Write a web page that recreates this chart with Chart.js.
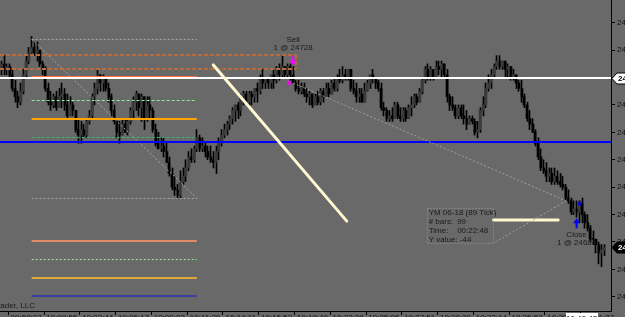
<!DOCTYPE html>
<html><head><meta charset="utf-8">
<script src="https://cdn.jsdelivr.net/npm/chart.js@4/dist/chart.umd.min.js"></script>
<style>html,body{margin:0;padding:0;overflow:hidden;background:#696969;width:625px;height:317px}canvas{display:block}</style>
</head><body><canvas id="c" width="660" height="340"></canvas>
<script>
// ---- data (YM 06-18, 89 tick bars) ----
const barOpen=[24733,24735,24733,24734,24731,24726,24723,24721,24725,24731,
24736,24739,24741,24739,24740,24735,24733,24726,24721,24720,
24723,24719,24723,24724,24720,24716,24720,24718,24711,24709,
24711,24709,24714,24716,24723,24726,24731,24728,24730,24726,
24723,24718,24714,24710,24709,24713,24710,24714,24718,24721,
24724,24719,24723,24715,24720,24718,24711,24706,24704,24705,
24703,24699,24695,24690,24689,24687,24692,24694,24697,24701,
24700,24704,24708,24704,24705,24703,24701,24700,24699,24703,
24706,24709,24711,24713,24715,24718,24720,24718,24723,24724,
24721,24724,24723,24726,24725,24730,24728,24730,24728,24731,
24729,24733,24731,24734,24731,24734,24731,24728,24726,24725,
24726,24724,24723,24724,24720,24723,24721,24725,24723,24726,
24724,24728,24726,24730,24729,24731,24730,24733,24726,24725,
24723,24724,24721,24725,24728,24731,24730,24728,24726,24719,
24718,24715,24716,24715,24720,24716,24715,24718,24715,24719,
24720,24723,24721,24725,24729,24733,24730,24733,24730,24734,
24733,24735,24731,24723,24720,24719,24716,24719,24716,24715,
24713,24715,24714,24710,24711,24718,24720,24726,24728,24731,
24734,24736,24734,24736,24733,24734,24730,24731,24728,24726,
24723,24720,24715,24713,24710,24706,24701,24697,24696,24694,
24695,24692,24694,24692,24691,24690,24686,24685,24681,24682,
24681,24684,24680,24677,24675,24671,24671,24669,24666,24667];
const barHigh=[24736,24738,24735,24735,24733,24729,24725,24728,24733,24738,
24741,24745,24743,24743,24740,24736,24734,24728,24725,24724,
24725,24726,24728,24726,24724,24723,24721,24718,24715,24714,
24713,24715,24718,24724,24728,24733,24731,24731,24730,24728,
24724,24720,24715,24714,24715,24715,24715,24719,24723,24725,
24724,24724,24723,24723,24723,24719,24713,24710,24708,24708,
24706,24701,24697,24694,24691,24696,24697,24700,24703,24704,
24705,24711,24709,24708,24706,24705,24705,24703,24705,24708,
24711,24713,24714,24716,24719,24720,24721,24724,24725,24725,
24725,24725,24726,24728,24731,24733,24730,24730,24731,24733,
24734,24735,24738,24734,24735,24735,24734,24729,24729,24728,
24728,24726,24725,24724,24724,24725,24726,24726,24728,24728,
24729,24730,24731,24733,24734,24733,24733,24733,24729,24728,
24726,24726,24728,24729,24731,24733,24730,24729,24728,24721,
24719,24718,24719,24721,24721,24719,24719,24719,24720,24723,
24724,24724,24726,24730,24734,24735,24734,24733,24736,24736,
24736,24735,24733,24724,24723,24720,24720,24720,24720,24718,
24716,24716,24715,24714,24719,24723,24728,24731,24733,24735,
24738,24738,24736,24736,24735,24734,24733,24731,24729,24729,
24724,24721,24718,24715,24711,24708,24704,24700,24699,24697,
24697,24697,24696,24695,24694,24691,24689,24686,24685,24685,
24685,24686,24681,24680,24676,24674,24671,24670,24669,24669];
const barLow=[24731,24731,24731,24730,24725,24721,24719,24720,24724,24730,
24735,24738,24738,24736,24734,24731,24725,24720,24718,24719,
24718,24719,24719,24718,24715,24716,24716,24710,24706,24706,
24708,24708,24713,24715,24720,24724,24725,24725,24725,24721,
24716,24713,24708,24706,24709,24710,24709,24713,24715,24718,
24716,24714,24711,24714,24715,24710,24705,24704,24703,24701,
24699,24694,24689,24687,24686,24686,24691,24692,24696,24699,
24699,24703,24703,24703,24701,24700,24699,24697,24695,24700,
24705,24708,24709,24711,24713,24714,24715,24716,24720,24720,
24720,24720,24721,24721,24724,24726,24726,24726,24726,24726,
24728,24729,24730,24730,24730,24729,24728,24725,24724,24724,
24723,24721,24720,24719,24720,24720,24720,24721,24723,24723,
24724,24725,24725,24728,24728,24729,24729,24725,24724,24721,
24721,24721,24721,24725,24726,24728,24726,24725,24718,24716,
24714,24714,24714,24715,24715,24714,24714,24714,24715,24716,
24719,24720,24721,24724,24728,24729,24729,24729,24730,24731,
24730,24730,24721,24718,24718,24715,24715,24715,24713,24711,
24713,24713,24709,24708,24710,24716,24719,24725,24726,24730,
24733,24733,24733,24730,24730,24729,24729,24726,24725,24721,
24719,24714,24711,24710,24705,24700,24696,24695,24692,24692,
24691,24691,24691,24690,24689,24685,24684,24680,24680,24679,
24677,24677,24675,24674,24670,24669,24666,24662,24661,24665];
const barClose=[24735,24733,24734,24731,24726,24723,24721,24725,24731,24736,
24739,24741,24739,24740,24735,24733,24726,24721,24720,24723,
24719,24723,24724,24720,24716,24720,24718,24711,24709,24711,
24709,24714,24716,24723,24726,24731,24728,24730,24726,24723,
24718,24714,24710,24709,24713,24710,24714,24718,24721,24724,
24719,24723,24715,24720,24718,24711,24706,24704,24705,24703,
24699,24695,24690,24689,24687,24692,24694,24697,24701,24700,
24704,24708,24704,24705,24703,24701,24700,24699,24703,24706,
24709,24711,24713,24715,24718,24720,24718,24723,24724,24721,
24724,24723,24726,24725,24730,24728,24730,24728,24731,24729,
24733,24731,24734,24731,24734,24731,24728,24726,24725,24726,
24724,24723,24724,24720,24723,24721,24725,24723,24726,24724,
24728,24726,24730,24729,24731,24730,24733,24726,24725,24723,
24724,24721,24725,24728,24731,24730,24728,24726,24719,24718,
24715,24716,24715,24720,24716,24715,24718,24715,24719,24720,
24723,24721,24725,24729,24733,24730,24733,24730,24734,24733,
24735,24731,24723,24720,24719,24716,24719,24716,24715,24713,
24715,24714,24710,24711,24718,24720,24726,24728,24731,24734,
24736,24734,24736,24733,24734,24730,24731,24728,24726,24723,
24720,24715,24713,24710,24706,24701,24697,24696,24694,24695,
24692,24694,24692,24691,24690,24686,24685,24681,24682,24681,
24684,24680,24677,24675,24671,24671,24669,24666,24667,24668];
const priceTicks=[24650,24660,24670,24680,24690,24700,24710,24720,24730,24740,24750];
const tickBars=[9,22,35,48,61,74,87,100,113,126,139,152,165,178,191,204,217];
const timeTicks=["09:58:07","10:00:55","10:03:44","10:06:17","10:09:02","10:11:30","10:14:11","10:16:53","10:19:40","10:22:28","10:25:06","10:27:51","10:30:39","10:33:14","10:35:58","10:38:42","10:41:27"];
// drawing objects (bar index, price)
const fibAnchors={startBar:11,endBar:71,high:24744,low:24686};
const fibLevels=[0,0.236,0.382,0.5,0.618,1,1.272,1.382,1.5,1.618];
const whiteLinePrice=24729.7, blueLinePrice=24706.5;
const rectZone={fromBar:-5,toBar:107.06,top:24738.2,bottom:24733.1};
const creamTrend={b1:77,p1:24734.6,b2:125.5,p2:24677.6};
const creamFlat={b1:178.8,b2:202.3,p:24678};
const ruler={b1:106,p1:24728,b2:205.2,p2:24685,boxLeft:154.7,boxTop:24682.4,boxRight:178.8,boxBottom:24669.5};
const rulerText=[["YM 06-18 (89 Tick)",""],["# bars:","99"],["Time:","00:22:48"],["Y value: -44",""]];
const sellExec={bar:106,price:24728,label:"Sell",qty:"1 @ 24728"};
const closeExec={bar:209,price:24684,label:"Close",qty:"1 @ 24684"};
const crossTime={bar:210.8,text:"10:40:42"};

const FONT='"Liberation Sans", Arial, sans-serif';
const fibStyles=[
 {c:'#a8a8a8',w:1,d:[2,2]},{c:'#ff6e40',w:2,d:[]},{c:'#90ee90',w:1,d:[3,2]},{c:'#ffa500',w:2,d:[]},
 {c:'#3cb371',w:1,d:[3,2]},{c:'#a8a8a8',w:1,d:[2,2]},{c:'#e08a6a',w:2,d:[]},{c:'#98f098',w:1,d:[2,2]},
 {c:'#dcaa3c',w:2,d:[]},{c:'#3c3c9c',w:2,d:[]}];

function line(ctx,x1,y1,x2,y2,col,w,dash){ctx.save();ctx.strokeStyle=col;ctx.lineWidth=w;ctx.setLineDash(dash||[]);ctx.beginPath();ctx.moveTo(x1,y1);ctx.lineTo(x2,y2);ctx.stroke();ctx.restore();}
function hy(y,w){return w%2===1?Math.round(y)+0.5:Math.round(y);}

const bgPlugin={id:'bg',beforeDraw(ch){const c=ch.ctx;c.save();c.fillStyle='#696969';c.fillRect(0,0,ch.width,ch.height);c.restore();}};
const snapPlugin={id:'snap',beforeDatasetsDraw(ch){
  ch.data.datasets.forEach((ds,di)=>{const meta=ch.getDatasetMeta(di);meta.data.forEach(el=>{
    if(di===0){el.x=Math.floor(el.x)+0.5;}else{el.x=Math.round(el.x);} });});
}};
const drawPlugin={id:'drawings',
 afterDatasetsDraw(ch){
  const c=ch.ctx,a=ch.chartArea,X=ch.scales.x,Y=ch.scales.y;
  const px=b=>X.getPixelForValue(b), py=p=>Y.getPixelForValue(p);
  c.save();c.beginPath();c.rect(a.left,a.top,a.right-a.left,a.bottom-a.top);c.clip();
  const zl=Math.max(a.left,px(rectZone.fromBar)),zr=Math.round(px(rectZone.toBar)),zt=Math.round(py(rectZone.top)),zb=Math.round(py(rectZone.bottom));
  line(c,zl,zt,zr,zt,'#b86c3a',2,[4,2]);
  line(c,zl,zb,zr,zb,'#b86c3a',2,[4,2]);
  line(c,zr,zt,zr,zb,'#b86c3a',2,[4,2]);
  const fx1=px(fibAnchors.startBar),fx2=px(fibAnchors.endBar),rng=fibAnchors.high-fibAnchors.low;
  fibLevels.forEach((l,i)=>{const s=fibStyles[i];const y=hy(py(fibAnchors.high-l*rng),s.w);line(c,fx1,y,fx2,y,s.c,s.w,s.d);});
  line(c,fx1,py(fibAnchors.high),fx2,py(fibAnchors.low),'#a8a8a8',1,[2,2]);
  line(c,a.left,hy(py(whiteLinePrice),2),a.right,hy(py(whiteLinePrice),2),'#ffffff',2);
  line(c,a.left,hy(py(blueLinePrice),2),a.right,hy(py(blueLinePrice),2),'#0000ff',2);
  c.save();c.lineCap='round';
  line(c,px(creamTrend.b1),py(creamTrend.p1),px(creamTrend.b2),py(creamTrend.p2),'#fff8d0',3);
  line(c,px(creamFlat.b1),py(creamFlat.p),px(creamFlat.b2),py(creamFlat.p),'#fff8d0',3);
  c.restore();
  const rx1=px(ruler.b1),ry1=py(ruler.p1),rx2=px(ruler.b2),ry2=py(ruler.p2);
  line(c,rx1,ry1,rx2,ry2,'#a0a0a0',1,[2,2]);
  const bl=px(ruler.boxLeft),bt=py(ruler.boxTop),br=px(ruler.boxRight),bb=py(ruler.boxBottom);
  line(c,rx2,ry2,br,bb,'#a0a0a0',1,[2,2]);
  c.save();c.strokeStyle='#9a9a9a';c.setLineDash([1,2]);c.lineWidth=1;c.strokeRect(Math.round(bl)+0.5,Math.round(bt)+0.5,Math.round(br-bl),Math.round(bb-bt));c.restore();
  c.save();c.fillStyle='#1a1a1a';c.font='8px '+FONT;c.textBaseline='middle';
  rulerText.forEach((r,i)=>{const y=bt+5+i*9;c.fillText(r[0],bl+1.5,y);if(r[1])c.fillText(r[1],bl+30,y);});c.restore();
  const sx=px(sellExec.bar),sTip=py(barHigh[sellExec.bar])-1;
  c.save();c.fillStyle='#ff00ff';
  c.fillRect(sx-1,sTip-10,2,6);c.beginPath();c.moveTo(sx-3.5,sTip-5);c.lineTo(sx+3.5,sTip-5);c.lineTo(sx,sTip);c.closePath();c.fill();
  const sy=py(sellExec.price);c.beginPath();c.moveTo(sx-5,sy-3);c.lineTo(sx-1.5,sy);c.lineTo(sx-5,sy+3);c.closePath();c.fill();
  c.restore();
  const cx=px(closeExec.bar),cTip=py(barLow[closeExec.bar])+1;
  c.save();c.fillStyle='#0000ff';
  c.fillRect(cx-1,cTip+4,2,6);c.beginPath();c.moveTo(cx-3.5,cTip+5);c.lineTo(cx+3.5,cTip+5);c.lineTo(cx,cTip);c.closePath();c.fill();
  const cy=py(closeExec.price);c.beginPath();c.moveTo(cx+4,cy-3);c.lineTo(cx+0.5,cy);c.lineTo(cx+4,cy+3);c.closePath();c.fill();
  c.restore();
  c.save();c.fillStyle='#1a1a1a';c.font='8px '+FONT;c.textAlign='center';c.textBaseline='middle';
  c.fillText(sellExec.label,sx,sTip-26);c.fillText(sellExec.qty,sx,sTip-18);
  c.fillText(closeExec.label,cx,cTip+17);c.fillText(closeExec.qty,cx,cTip+25);
  c.restore();
  c.save();c.fillStyle='#1a1a1a';c.font='8px '+FONT;c.textAlign='right';c.textBaseline='middle';c.fillText('© 2018 NinjaTrader, LLC',a.left+35,a.bottom-5.5);c.restore();
  c.restore();
 },
 afterDraw(ch){
  const c=ch.ctx,a=ch.chartArea,X=ch.scales.x,Y=ch.scales.y;
  function tag(price,text,fill,tc){const y=Math.round(Y.getPixelForValue(price))+0.5;c.save();c.beginPath();c.moveTo(a.right+1,y);c.lineTo(a.right+6,y-5.5);c.lineTo(a.right+49,y-5.5);c.lineTo(a.right+49,y+5.5);c.lineTo(a.right+6,y+5.5);c.closePath();c.fillStyle=fill;c.fill();c.strokeStyle='#000';c.lineWidth=1;c.stroke();c.fillStyle=tc;c.font='bold 8px '+FONT;c.textBaseline='middle';c.fillText(text,a.right+7,y+0.5);c.restore();}
  tag(whiteLinePrice,'24730','#ffffff','#000');
  tag(barClose[barClose.length-1],String(barClose[barClose.length-1]),'#000000','#ffffff');
  const tx=X.getPixelForValue(crossTime.bar);
  c.save();c.fillStyle='#ffffff';c.fillRect(Math.round(tx-16),a.bottom+2,32,14);c.fillStyle='#000';c.font='8px '+FONT;c.textAlign='center';c.textBaseline='top';c.fillText(crossTime.text,tx,a.bottom+4);c.restore();
 }
};

new Chart(document.getElementById('c'),{
 type:'bar',
 data:{datasets:[
  {label:'wick',data:barHigh.map((h,i)=>({x:i,y:[barLow[i],h]})),backgroundColor:'#000000',barThickness:1,grouped:false,order:2},
  {label:'body',data:barOpen.map((o,i)=>({x:i,y:[o,barClose[i]]})),backgroundColor:barOpen.map((o,i)=>barClose[i]>o?'#3a3a3a':'#000000'),barThickness:2,grouped:false,minBarLength:1,order:1}
 ]},
 options:{responsive:false,animation:false,devicePixelRatio:1,events:[],
  layout:{padding:0},
  plugins:{legend:{display:false},tooltip:{enabled:false}},
  scales:{
   x:{type:'linear',min:-0.5,max:221.5,offset:false,position:'bottom',
    grid:{drawOnChartArea:false,drawTicks:true,tickLength:4,color:'#000',tickColor:'#000'},
    border:{display:true,color:'#000',width:1},
    afterBuildTicks:s=>{s.ticks=tickBars.map(v=>({value:v}));},
    afterFit:s=>{s.height=29;s.paddingLeft=0;s.paddingRight=0;},
    ticks:{callback:v=>{const k=tickBars.indexOf(v);return k>=0?timeTicks[k]:'';},font:{size:8,family:FONT},color:'#111',padding:-2,maxRotation:0,autoSkip:false}},
   y:{type:'linear',position:'right',min:24644.8,max:24758.3,
    grid:{drawOnChartArea:false,drawTicks:true,tickLength:4,color:'#000',tickColor:'#000'},
    border:{display:true,color:'#000',width:1},
    afterBuildTicks:s=>{s.ticks=priceTicks.map(v=>({value:v}));},
    afterFit:s=>{s.width=49;s.paddingTop=0;s.paddingBottom=0;},
    ticks:{callback:v=>String(v),font:{size:8,family:FONT},color:'#111',padding:2,autoSkip:false}}
  }},
 plugins:[bgPlugin,snapPlugin,drawPlugin]
});
</script></body></html>
